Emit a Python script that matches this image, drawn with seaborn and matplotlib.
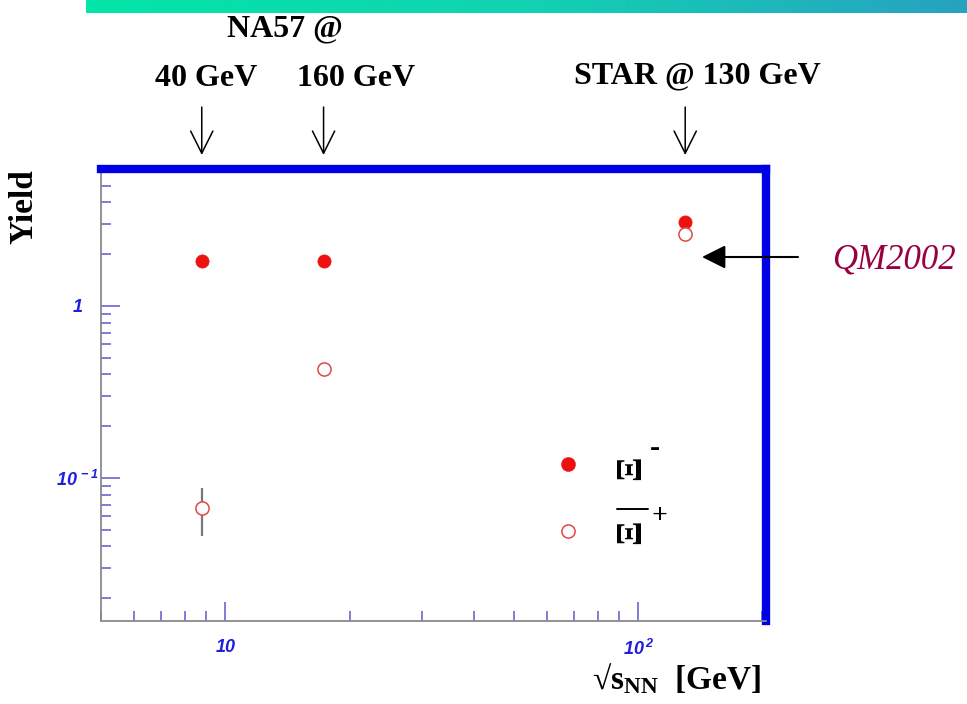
import numpy as np
import seaborn as sns
import matplotlib.pyplot as plt
from matplotlib.colors import LinearSegmentedColormap
from matplotlib.lines import Line2D
from matplotlib.ticker import LogLocator, NullFormatter

# Xi yields vs collision energy (NA57 40/160 A GeV, STAR 130 GeV)
energy = [8.77, 17.3, 130.0]
xi_minus = [1.83, 1.83, 3.08]
xi_plus = [0.067, 0.43, 2.62]
xi_plus_err = [0.021, 0.0, 0.0]
beam_labels = ['40 GeV', '160 GeV', 'STAR @ 130 GeV']

x_ticks = [10, 100]
x_tick_labels = ['10', r'$10^{\,2}$']
y_ticks = [0.1, 1]
y_tick_labels = [r'$10^{\,-1}$', '1']

sns.set_style('white')
plt.rcParams['font.family'] = ['Liberation Serif', 'DejaVu Serif']
plt.rcParams['mathtext.default'] = 'regular'
plt.rcParams['text.color'] = 'black'
plt.rcParams['axes.labelcolor'] = 'black'

W, H = 967, 704
fig = plt.figure(figsize=(W / 100, H / 100), dpi=100)
ax = fig.add_axes([101 / W, 83 / H, 665 / W, 452 / H])

# points
sns.scatterplot(x=energy, y=xi_minus, ax=ax, s=90, color='#ee1111',
                edgecolor='#ee1111', linewidth=0.5, zorder=4)
ax.errorbar(energy, xi_plus, yerr=xi_plus_err, fmt='none', ecolor='#777777',
            elinewidth=1.6, zorder=2)
sns.scatterplot(x=energy, y=xi_plus, ax=ax, s=90, facecolor='white',
                edgecolor='#e04848', linewidth=1.1, zorder=4)

ax.set_xscale('log')
ax.set_yscale('log')
ax.set_xlim(5, 204)
ax.set_ylim(0.01475, 6.25)

tick_font = dict(family='Liberation Sans', fontstyle='italic', fontweight='bold',
                 fontsize=13, color='#1f1fdd')
ax.set_xticks(x_ticks, x_tick_labels, **tick_font)
ax.set_yticks(y_ticks, y_tick_labels, **tick_font)
ax.xaxis.set_minor_locator(LogLocator(base=10, subs=np.arange(2, 10)))
ax.yaxis.set_minor_locator(LogLocator(base=10, subs=np.arange(2, 10)))
ax.xaxis.set_minor_formatter(NullFormatter())
ax.yaxis.set_minor_formatter(NullFormatter())
for t in ax.get_yticklabels():
    t.set_ha('center')

ax.tick_params(which='both', direction='in', color='#5a5ad0', width=1.1)
ax.tick_params(which='major', length=14)
ax.tick_params(which='minor', length=7)
ax.tick_params(axis='y', which='both', pad=17, left=True, right=False)
ax.tick_params(axis='x', which='both', pad=13, bottom=True, top=False)

for side in ['left', 'bottom']:
    ax.spines[side].set_color('#8a8a8a')
    ax.spines[side].set_linewidth(1.3)
for side in ['top', 'right']:
    ax.spines[side].set_color('#0000e6')
    ax.spines[side].set_linewidth(6)
    ax.spines[side].set_capstyle('projecting')

ax.set_ylabel('Yield', loc='top', fontsize=24, fontweight='bold', labelpad=12)
ax.set_xlabel('√s$_{NN}$  [GeV]', loc='right', fontsize=24, fontweight='bold',
              labelpad=4)
ax.xaxis.set_label_coords(0.993, -0.09)

# legend markers with rotated Xi labels beside them
handles = [Line2D([], [], marker='o', linestyle='none', markersize=9.5,
                  color='#ee1111'),
           Line2D([], [], marker='o', linestyle='none', markersize=9.5,
                  markerfacecolor='white', markeredgecolor='#e04848',
                  markeredgewidth=1.1)]
ax.legend(handles, ['', ''], loc='center', frameon=False,
          bbox_to_anchor=(568 / W, 1 - 499 / H), bbox_transform=fig.transFigure,
          handlelength=1, handletextpad=0, borderpad=0, fontsize=10,
          labelspacing=3.85)
xi_font = dict(fontsize=26, fontweight='bold', ha='center', va='center')
fig.text(632 / W, 1 - 468 / H, 'Ξ', rotation=90, **xi_font)
fig.text(632 / W, 1 - 532 / H, 'Ξ', rotation=90, **xi_font)
fig.text(655 / W, 1 - 449 / H, '-', fontsize=22, fontweight='bold', ha='center', va='center')
fig.text(659 / W, 1 - 517 / H, '+', fontsize=20, fontweight='bold', ha='center', va='center')
fig.add_artist(Line2D([617 / W, 648 / W], [1 - 509 / H] * 2, color='black', lw=1.4))

# beam energy arrows above the frame
for e in energy:
    ax.annotate('', xy=(e, 1.031), xycoords=('data', 'axes fraction'),
                xytext=(e, 1.137), textcoords=('data', 'axes fraction'),
                arrowprops=dict(arrowstyle='->, head_length=0.4, head_width=0.2',
                                mutation_scale=40, color='black', lw=1.1,
                                shrinkA=0, shrinkB=0), annotation_clip=False)
top_font = dict(fontsize=23, fontweight='bold', ha='center', va='baseline')
fig.text(285 / W, 1 - 36 / H, 'NA57 @', **top_font)
fig.text(206 / W, 1 - 86 / H, beam_labels[0], **top_font)
fig.text(356 / W, 1 - 86 / H, beam_labels[1], **top_font)
fig.text(697 / W, 1 - 83 / H, beam_labels[2], **top_font)

# QM2002 pointer
fig.text(894 / W, 1 - 260 / H, 'QM2002', fontsize=25, fontstyle='italic',
         color='#990040', ha='center', va='center')
ax.annotate('', xy=(702 / W, 1 - 257 / H), xycoords='figure fraction',
            xytext=(798 / W, 1 - 257 / H), textcoords='figure fraction',
            arrowprops=dict(arrowstyle='-|>, head_length=0.4, head_width=0.2',
                            mutation_scale=36, color='black', lw=1.5,
                            shrinkA=0, shrinkB=0), annotation_clip=False, zorder=5)

# gradient banner at the top
gax = fig.add_axes([86 / W, 1 - 13 / H, (W - 86) / W, 13 / H])
cmap = LinearSegmentedColormap.from_list('banner', ['#03e6a8', '#12d2b2', '#27a2c2'])
gax.imshow(np.linspace(0, 1, 256)[None, :], aspect='auto', cmap=cmap)
gax.axis('off')

fig.savefig('out.png', dpi=100)
